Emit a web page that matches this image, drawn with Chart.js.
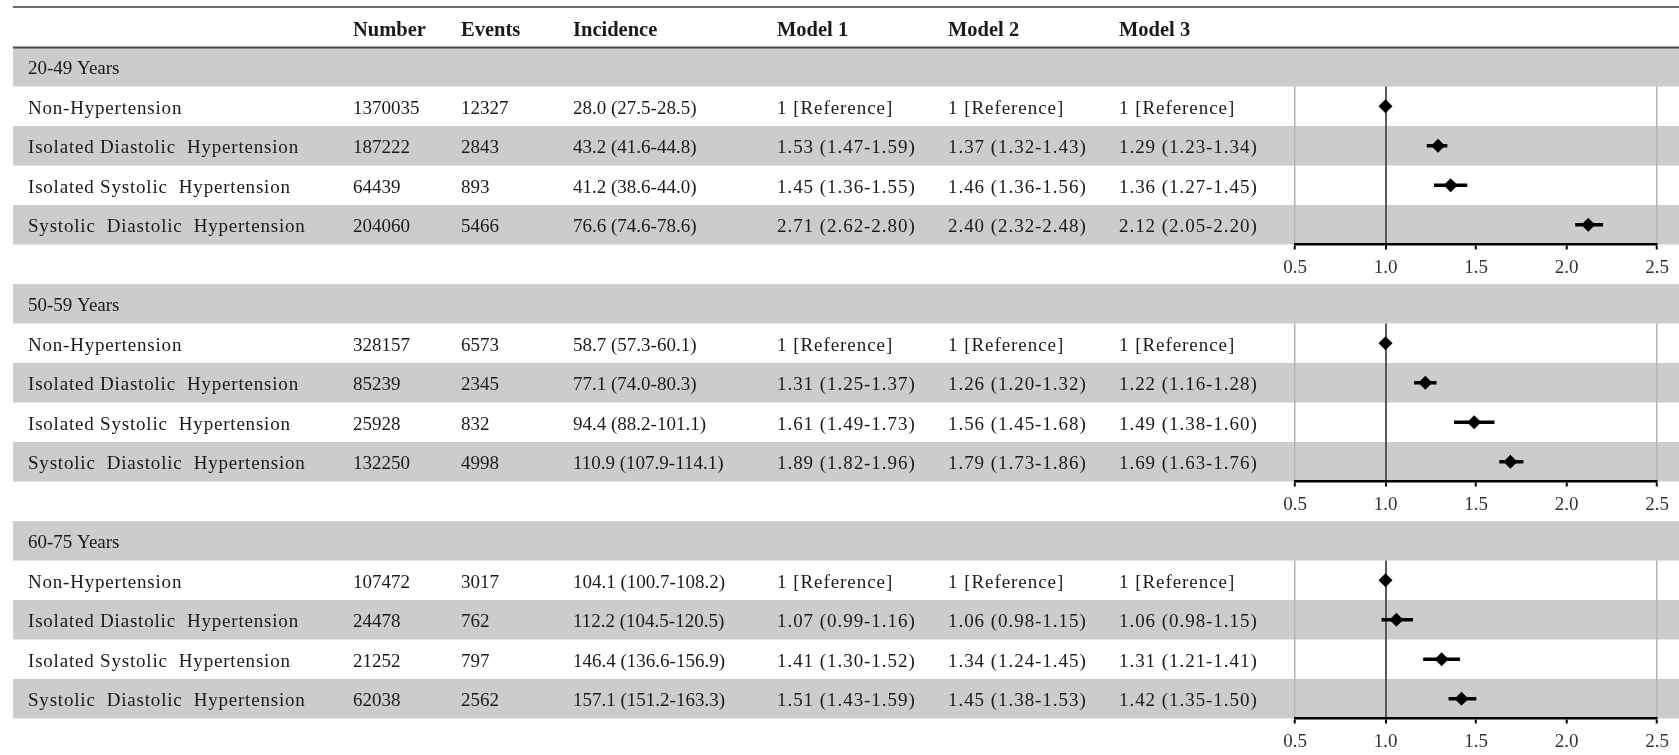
<!DOCTYPE html>
<html>
<head>
<meta charset="utf-8">
<script src="https://cdn.jsdelivr.net/npm/chart.js@4.4.0/dist/chart.umd.min.js"></script>
<style>
  html, body { margin: 0; padding: 0; background: #ffffff; }
  body { width: 1679px; height: 755px; overflow: hidden; }
  canvas { display: block; }
</style>
</head>
<body>
<canvas id="g0" width="1679" height="284"></canvas>
<canvas id="g1" width="1679" height="237"></canvas>
<canvas id="g2" width="1679" height="234"></canvas>
<script>
// ---- Table content ----
const columnTitles = ['Number', 'Events', 'Incidence', 'Model 1', 'Model 2', 'Model 3'];
const ageGroups = ['20-49 Years', '50-59 Years', '60-75 Years'];
const bpCategories = [
  'Non-Hypertension',
  'Isolated Diastolic  Hypertension',
  'Isolated Systolic  Hypertension',
  'Systolic  Diastolic  Hypertension'
];
const axisTicks = [0.5, 1.0, 1.5, 2.0, 2.5];

// 20-49 years
const number_20_49 = [1370035, 187222, 64439, 204060];
const events_20_49 = [12327, 2843, 893, 5466];
const incidence_20_49 = [[28.0, 27.5, 28.5], [43.2, 41.6, 44.8], [41.2, 38.6, 44.0], [76.6, 74.6, 78.6]];
const model1_20_49 = [null, [1.53, 1.47, 1.59], [1.45, 1.36, 1.55], [2.71, 2.62, 2.80]];
const model2_20_49 = [null, [1.37, 1.32, 1.43], [1.46, 1.36, 1.56], [2.40, 2.32, 2.48]];
const model3_20_49 = [null, [1.29, 1.23, 1.34], [1.36, 1.27, 1.45], [2.12, 2.05, 2.20]];

// 50-59 years
const number_50_59 = [328157, 85239, 25928, 132250];
const events_50_59 = [6573, 2345, 832, 4998];
const incidence_50_59 = [[58.7, 57.3, 60.1], [77.1, 74.0, 80.3], [94.4, 88.2, 101.1], [110.9, 107.9, 114.1]];
const model1_50_59 = [null, [1.31, 1.25, 1.37], [1.61, 1.49, 1.73], [1.89, 1.82, 1.96]];
const model2_50_59 = [null, [1.26, 1.20, 1.32], [1.56, 1.45, 1.68], [1.79, 1.73, 1.86]];
const model3_50_59 = [null, [1.22, 1.16, 1.28], [1.49, 1.38, 1.60], [1.69, 1.63, 1.76]];

// 60-75 years
const number_60_75 = [107472, 24478, 21252, 62038];
const events_60_75 = [3017, 762, 797, 2562];
const incidence_60_75 = [[104.1, 100.7, 108.2], [112.2, 104.5, 120.5], [146.4, 136.6, 156.9], [157.1, 151.2, 163.3]];
const model1_60_75 = [null, [1.07, 0.99, 1.16], [1.41, 1.30, 1.52], [1.51, 1.43, 1.59]];
const model2_60_75 = [null, [1.06, 0.98, 1.15], [1.34, 1.24, 1.45], [1.45, 1.38, 1.53]];
const model3_60_75 = [null, [1.06, 0.98, 1.15], [1.31, 1.21, 1.41], [1.42, 1.35, 1.50]];

const groupData = [
  { number: number_20_49, events: events_20_49, incidence: incidence_20_49, m1: model1_20_49, m2: model2_20_49, m3: model3_20_49 },
  { number: number_50_59, events: events_50_59, incidence: incidence_50_59, m1: model1_50_59, m2: model2_50_59, m3: model3_50_59 },
  { number: number_60_75, events: events_60_75, incidence: incidence_60_75, m1: model1_60_75, m2: model2_60_75, m3: model3_60_75 }
];

// ---- Layout & style ----
const FONT = "'Liberation Serif', 'Times New Roman', serif";
const SLOT = 39.5;
const HEADER_H = 47;
const TABLE_LEFT = 13;
const TEXT_X = 28;
const COL_X = [353, 461, 573, 777, 948, 1119];
const PLOT_LEFT = 1295;
const PLOT_RIGHT_PAD = 22;
const BAND = '#cccccc';
const INK = '#1a1a1a';

const fmt1 = v => v.toFixed(1);
const fmt2 = v => v.toFixed(2);
const hrText = t => t === null ? '1 [Reference]' : `${fmt2(t[0])} (${fmt2(t[1])}-${fmt2(t[2])})`;
const incText = t => `${fmt1(t[0])} (${fmt1(t[1])}-${fmt1(t[2])})`;

// Draws the banded table (group row, alternating shading, text columns)
const forestTable = {
  id: 'forestTable',
  beforeDraw(chart, args, opts) {
    const ctx = chart.ctx;
    const y = chart.scales.y;
    const W = chart.width;
    const rowH = (y.bottom - y.top) / bpCategories.length;
    const d = groupData[opts.group];
    ctx.save();

    // group band and shaded rows
    ctx.fillStyle = BAND;
    ctx.fillRect(TABLE_LEFT, y.top - rowH, W - TABLE_LEFT, rowH);
    bpCategories.forEach((c, r) => {
      if (r % 2 === 1) {
        const cy = y.getPixelForValue(r);
        ctx.fillRect(TABLE_LEFT, cy - rowH / 2, W - TABLE_LEFT, rowH);
      }
    });

    ctx.textBaseline = 'middle';
    ctx.textAlign = 'left';
    ctx.fillStyle = INK;

    // column header block
    if (opts.header) {
      const bandTop = y.top - rowH;
      ctx.strokeStyle = '#3a3a3a';
      ctx.lineWidth = 1.5;
      ctx.beginPath();
      ctx.moveTo(TABLE_LEFT, 7); ctx.lineTo(W, 7);
      ctx.stroke();
      ctx.strokeStyle = '#4a4a4a';
      ctx.lineWidth = 2;
      ctx.beginPath();
      ctx.moveTo(TABLE_LEFT, bandTop + 0.5); ctx.lineTo(W, bandTop + 0.5);
      ctx.stroke();
      ctx.font = `bold 20.5px ${FONT}`;
      columnTitles.forEach((t, i) => ctx.fillText(t, COL_X[i], (7 + bandTop) / 2 + 4));
    }

    ctx.font = `19px ${FONT}`;
    ctx.fillText(ageGroups[opts.group], TEXT_X, y.top - rowH / 2 + 2);

    bpCategories.forEach((c, r) => {
      const cy = y.getPixelForValue(r) + 2.5;
      ctx.letterSpacing = '0.8px';
      ctx.fillText(c, TEXT_X, cy);
      ctx.letterSpacing = '0px';
      ctx.fillText(String(d.number[r]), COL_X[0], cy);
      ctx.fillText(String(d.events[r]), COL_X[1], cy);
      ctx.fillText(incText(d.incidence[r]), COL_X[2], cy);
      ctx.letterSpacing = '0.95px';
      ctx.fillText(hrText(d.m1[r]), COL_X[3], cy);
      ctx.fillText(hrText(d.m2[r]), COL_X[4], cy);
      ctx.fillText(hrText(d.m3[r]), COL_X[5], cy);
      ctx.letterSpacing = '0px';
    });
    ctx.restore();
  }
};

const isTick = (v, t) => Math.abs(v - t) < 1e-9;

function buildChart(gi) {
  const canvas = document.getElementById('g' + gi);
  const topPad = (gi === 0 ? HEADER_H : 0) + SLOT;
  const axisH = canvas.height - topPad - SLOT * bpCategories.length;
  const m3 = groupData[gi].m3;

  return new Chart(canvas, {
    data: {
      labels: bpCategories,
      datasets: [
        {
          type: 'line',
          label: 'Model 3 HR',
          data: m3.map(t => t === null ? 1 : t[0]),
          showLine: false,
          pointStyle: 'rectRot',
          pointRadius: 7,
          pointHoverRadius: 7,
          pointBackgroundColor: '#000',
          pointBorderColor: '#000',
          pointBorderWidth: 0,
          order: 0
        },
        {
          type: 'bar',
          label: 'Model 3 95% CI',
          data: m3.map(t => t === null ? null : [t[1], t[2]]),
          backgroundColor: '#000',
          borderWidth: 0,
          barThickness: 3,
          order: 1
        }
      ]
    },
    options: {
      responsive: false,
      animation: false,
      indexAxis: 'y',
      layout: { padding: { top: topPad, left: PLOT_LEFT, right: PLOT_RIGHT_PAD, bottom: 0 } },
      plugins: {
        legend: { display: false },
        tooltip: { enabled: false },
        forestTable: { group: gi, header: gi === 0 }
      },
      scales: {
        x: {
          type: 'linear',
          position: 'bottom',
          min: 0.5,
          max: 2.5,
          afterBuildTicks: s => { s.ticks = axisTicks.map(v => ({ value: v })); },
          afterFit: s => { s.height = axisH; },
          ticks: {
            callback: v => Number(v).toFixed(1),
            font: { family: FONT, size: 19 },
            color: '#333333',
            padding: 7,
            maxRotation: 0,
            autoSkip: false
          },
          grid: {
            drawOnChartArea: true,
            color: c => (c.tick && isTick(c.tick.value, 1)) ? '#5a5a5a'
              : (c.tick && (isTick(c.tick.value, 0.5) || isTick(c.tick.value, 2.5))) ? '#b3b3b3' : 'rgba(0,0,0,0)',
            lineWidth: c => (c.tick && isTick(c.tick.value, 1)) ? 2 : 1.5,
            tickColor: '#000',
            tickWidth: 2,
            tickLength: 5
          },
          border: { display: true, color: '#000', width: 2.5 }
        },
        y: {
          type: 'category',
          display: false,
          offset: true,
          grid: { display: false }
        }
      }
    },
    plugins: [forestTable]
  });
}

ageGroups.forEach((g, i) => buildChart(i));
</script>
</body>
</html>
